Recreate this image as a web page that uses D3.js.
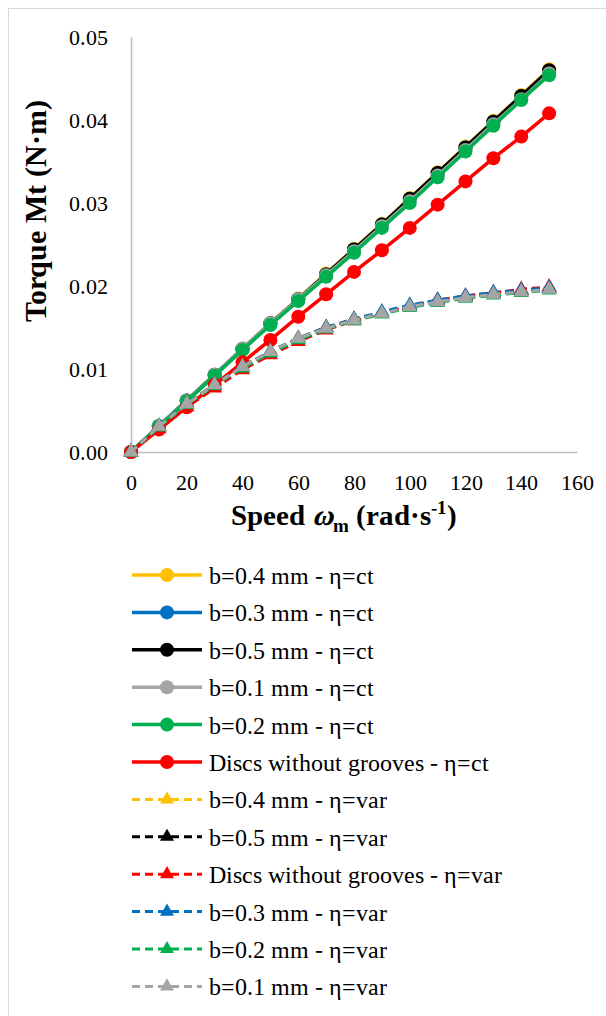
<!DOCTYPE html>
<html><head><meta charset="utf-8">
<script src="https://cdn.jsdelivr.net/npm/d3@7/dist/d3.min.js"></script>
<style>
  @font-face { font-family: "ChartSerif"; font-weight: 400; src: local("Liberation Serif"), local("LiberationSerif"), local("Tinos"); }
  @font-face { font-family: "ChartSerif"; font-weight: 700; src: local("Liberation Serif Bold"), local("LiberationSerif-Bold"), local("Tinos Bold"); }
</style>
</head><body style="margin:0">
<svg id="chart" width="606" height="1016"></svg>
<script>
// Rotational speed (rad/s)
const speeds = [0, 10, 20, 30, 40, 50, 60, 70, 80, 90, 100, 110, 120, 130, 140, 150];

// Torque (N·m), constant viscosity
const ctB04 = [0, 0.0031, 0.0062, 0.0093, 0.0124, 0.0155, 0.0185, 0.0215, 0.0245, 0.0275, 0.0306, 0.0337, 0.0368, 0.0399, 0.0430, 0.0461];
const ctB03 = [0, 0.0031, 0.0062, 0.0093, 0.0124, 0.0155, 0.0184, 0.0214, 0.0244, 0.0274, 0.0305, 0.0336, 0.0367, 0.0398, 0.0429, 0.0459];
const ctB05 = [0, 0.0031, 0.0062, 0.0093, 0.0124, 0.0155, 0.0184, 0.0214, 0.0244, 0.0274, 0.0305, 0.0336, 0.0367, 0.0398, 0.0429, 0.0460];
const ctB01 = [0, 0.0031, 0.0062, 0.0093, 0.0125, 0.0155, 0.0184, 0.0213, 0.0242, 0.0272, 0.0302, 0.0333, 0.0364, 0.0395, 0.0425, 0.0456];
const ctB02 = [0, 0.0031, 0.0061, 0.0092, 0.0123, 0.0153, 0.0182, 0.0211, 0.0240, 0.0270, 0.0300, 0.0331, 0.0362, 0.0393, 0.0424, 0.0454];
const ctNoGroove = [0, 0.0027, 0.0054, 0.0081, 0.0108, 0.0135, 0.0163, 0.0190, 0.0217, 0.0243, 0.0270, 0.0298, 0.0326, 0.0354, 0.0380, 0.0408];

// Torque (N·m), variable viscosity
const varB04 = [0, 0.0031, 0.0058, 0.0081, 0.0103, 0.0121, 0.0137, 0.0150, 0.0160, 0.0168, 0.0176, 0.0182, 0.0187, 0.0191, 0.0194, 0.0197];
const varB05 = [0, 0.0031, 0.0058, 0.0081, 0.0103, 0.0121, 0.0137, 0.0150, 0.0160, 0.0168, 0.0176, 0.0182, 0.0187, 0.0191, 0.0194, 0.0197];
const varNoGroove = [0, 0.0028, 0.0054, 0.0077, 0.0099, 0.0117, 0.0133, 0.0147, 0.0158, 0.0167, 0.0176, 0.0183, 0.0188, 0.0192, 0.0196, 0.0199];
const varB03 = [0, 0.0031, 0.0058, 0.0081, 0.0103, 0.0121, 0.0137, 0.0150, 0.0160, 0.0169, 0.0177, 0.0183, 0.0188, 0.0192, 0.0195, 0.0198];
const varB02 = [0, 0.0030, 0.0057, 0.0080, 0.0101, 0.0119, 0.0135, 0.0148, 0.0158, 0.0166, 0.0174, 0.0180, 0.0185, 0.0189, 0.0192, 0.0195];
const varB01 = [0, 0.0031, 0.0058, 0.0081, 0.0103, 0.0121, 0.0137, 0.0149, 0.0159, 0.0167, 0.0175, 0.0181, 0.0186, 0.0190, 0.0193, 0.0196];

// Axis ticks
const xTicks = [0, 20, 40, 60, 80, 100, 120, 140, 160];
const yTicks = [0, 0.01, 0.02, 0.03, 0.04, 0.05];

// Series in drawing / legend order
const seriesNames = [
  "b=0.4 mm - η=ct", "b=0.3 mm - η=ct", "b=0.5 mm - η=ct", "b=0.1 mm - η=ct", "b=0.2 mm - η=ct",
  "Discs without grooves - η=ct",
  "b=0.4 mm - η=var", "b=0.5 mm - η=var", "Discs without grooves - η=var",
  "b=0.3 mm - η=var", "b=0.2 mm - η=var", "b=0.1 mm - η=var"
];
const seriesValues = [ctB04, ctB03, ctB05, ctB01, ctB02, ctNoGroove,
                      varB04, varB05, varNoGroove, varB03, varB02, varB01];
const seriesColors = ["#FFC000", "#0070C0", "#000000", "#A5A5A5", "#00B050", "#FF0000",
                      "#FFC000", "#000000", "#FF0000", "#0070C0", "#00B050", "#A5A5A5"];
const seriesKinds = ["ct", "ct", "ct", "ct", "ct", "ct", "var", "var", "var", "var", "var", "var"];

const SERIF = "ChartSerif, 'Liberation Serif', serif";
const serif = sel => sel.style("font-family", SERIF);

const svg = d3.select("#chart");

// Outer frame
svg.append("rect")
  .attr("x", 8.5).attr("y", 8.5).attr("width", 700).attr("height", 1100)
  .attr("fill", "none").attr("stroke", "#d9d9d9").attr("stroke-width", 1);

const x = d3.scaleLinear().domain([0, 160]).range([131, 577]);
const y = d3.scaleLinear().domain([0, 0.05]).range([452, 37]);

// Axes
const xAxis = svg.append("g")
  .attr("transform", `translate(0,${y(0)})`)
  .call(d3.axisBottom(x).tickValues(xTicks).tickSize(0).tickSizeOuter(0).tickPadding(22).tickFormat(d3.format("d")));
const yAxis = svg.append("g")
  .attr("transform", `translate(${x(0)},0)`)
  .call(d3.axisLeft(y).tickValues(yTicks).tickSize(0).tickSizeOuter(0).tickPadding(23).tickFormat(d3.format(".2f")));
[xAxis, yAxis].forEach(g => {
  g.attr("font-family", null).attr("font-size", 22);
  g.select(".domain").attr("stroke", "#bfbfbf").attr("stroke-width", 1.6);
  g.selectAll(".tick text").call(serif).style("font-size", "22px").attr("fill", "#000");
});

// Axis titles
svg.append("text")
  .attr("transform", "translate(46,211) rotate(-90)")
  .attr("text-anchor", "middle")
  .call(serif).style("font-size", "30px").style("font-weight", "bold")
  .text("Torque Mt (N·m)");

const xt = svg.append("text")
  .attr("x", 344).attr("y", 525)
  .attr("text-anchor", "middle")
  .call(serif).style("font-size", "29px").style("font-weight", "bold");
xt.append("tspan").text("Speed ");
xt.append("tspan").style("font-style", "italic").text("ω");
xt.append("tspan").style("font-size", "19px").attr("dy", 7).text("m");
xt.append("tspan").attr("dy", -7).text(" (rad·s");
xt.append("tspan").style("font-size", "19px").attr("dy", -11).text("-1");
xt.append("tspan").attr("dy", 11).text(")");

// Series lines and markers
const line = d3.line().x((d, i) => x(speeds[i])).y(d => y(d));
const triangle = d3.symbol().type(d3.symbolTriangle).size(100);
const triangleSmall = d3.symbol().type(d3.symbolTriangle).size(85);

seriesValues.forEach((vals, s) => {
  const col = seriesColors[s];
  const g = svg.append("g");
  const dashed = seriesKinds[s] === "var";
  g.append("path")
    .attr("d", line(vals))
    .attr("fill", "none")
    .attr("stroke", col)
    .attr("stroke-width", dashed ? 3 : 3.5)
    .attr("stroke-dasharray", dashed ? "8,5" : null);
  if (dashed) {
    g.selectAll("path.m").data(vals).enter().append("path")
      .attr("class", "m")
      .attr("d", triangle())
      .attr("transform", (d, i) => `translate(${x(speeds[i])},${y(d)})`)
      .attr("fill", col);
  } else {
    g.selectAll("circle").data(vals).enter().append("circle")
      .attr("cx", (d, i) => x(speeds[i]))
      .attr("cy", d => y(d))
      .attr("r", 7)
      .attr("fill", col);
  }
});

// Legend
const legend = svg.append("g");
seriesNames.forEach((name, s) => {
  const ly = 575 + s * 37.4;
  const col = seriesColors[s];
  const dashed = seriesKinds[s] === "var";
  const row = legend.append("g").attr("transform", `translate(0,${ly})`);
  row.append("line")
    .attr("x1", 132).attr("x2", 202).attr("y1", 0).attr("y2", 0)
    .attr("stroke", col)
    .attr("stroke-width", dashed ? 3 : 3.5)
    .attr("stroke-dasharray", dashed ? "8,5" : null);
  if (dashed) {
    row.append("path").attr("d", triangleSmall()).attr("transform", "translate(167,0)").attr("fill", col);
  } else {
    row.append("circle").attr("cx", 167).attr("cy", 0).attr("r", 7).attr("fill", col);
  }
  row.append("text")
    .attr("x", 209).attr("y", 9)
    .call(serif).style("font-size", "24px")
    .text(name);
});
</script></body></html>
